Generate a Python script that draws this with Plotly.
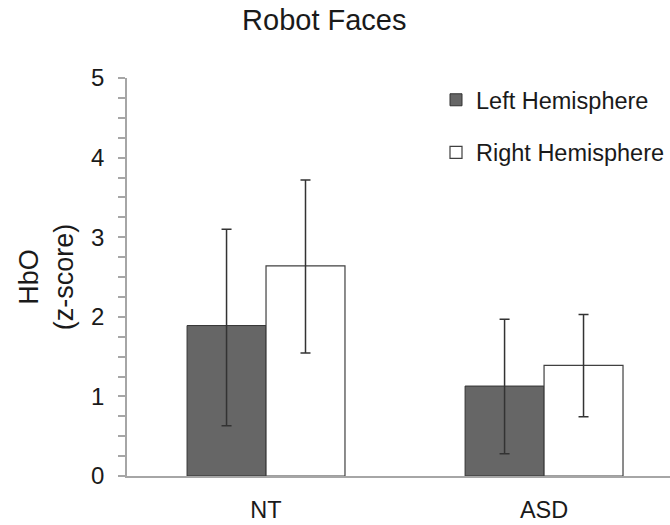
import plotly.graph_objects as go

groups = ["NT", "ASD"]
left_vals = [1.89, 1.13]
left_err_hi = [3.10, 1.97]
left_err_lo = [0.63, 0.28]
right_vals = [2.64, 1.39]
right_err_hi = [3.72, 2.03]
right_err_lo = [1.545, 0.745]
y_ticks = [0, 1, 2, 3, 4, 5]

FONT = "Liberation Sans, Arial, sans-serif"
TXT = "#1a1a1a"

def err(vals, hi, lo):
    return dict(type="data", symmetric=False,
                array=[h - v for h, v in zip(hi, vals)],
                arrayminus=[v - l for v, l in zip(vals, lo)],
                color="#333333", thickness=1.5, width=5)

fig = go.Figure()
fig.add_trace(go.Bar(
    x=groups, y=left_vals, name="Left Hemisphere",
    marker=dict(color="#666666", line=dict(color="#333333", width=1)),
    error_y=err(left_vals, left_err_hi, left_err_lo), legendgroup="a"))
fig.add_trace(go.Bar(
    x=groups, y=right_vals, name="Right Hemisphere",
    marker=dict(color="#ffffff", line=dict(color="#404040", width=1.2)),
    error_y=err(right_vals, right_err_hi, right_err_lo), legendgroup="b"))

fig.update_layout(
    width=670, height=525,
    margin=dict(l=127, r=0, t=78, b=49),
    paper_bgcolor="white", plot_bgcolor="white",
    font=dict(family=FONT, color=TXT, size=24),
    barmode="group", bargap=0.432, bargroupgap=0,
    title=dict(text="Robot Faces", x=0.484, xanchor="center",
               y=1 - 20 / 525, yref="container", yanchor="middle",
               font=dict(size=29, family=FONT, color=TXT)),
    showlegend=True,
    legend=dict(x=1.0, xanchor="right", y=1.0, yanchor="top",
                font=dict(size=23.5, family=FONT, color=TXT),
                traceorder="grouped", tracegroupgap=19,
                bgcolor="rgba(0,0,0,0)", itemwidth=30),
    xaxis=dict(range=[-0.5, 1.453], showline=True, linecolor="#a6a6a6",
               linewidth=1.5, ticks="", showgrid=False, zeroline=False,
               automargin=False,
               ticklabelstandoff=12, tickfont=dict(size=23.5)),
    yaxis=dict(range=[0, 5], tickvals=y_ticks, showline=True,
               linecolor="#a6a6a6", linewidth=1.5, ticks="outside",
               ticklen=7, tickcolor="#a6a6a6", tickwidth=1.5,
               showgrid=False, zeroline=False, ticklabelstandoff=9,
               automargin=False,
               tickfont=dict(size=24),
               minor=dict(dtick=0.25, ticks="outside", ticklen=7,
                          tickcolor="#a6a6a6", tickwidth=1.5, showgrid=False),
               title=dict(text="HbO<br>(z-score)", font=dict(size=27),
                          standoff=10)),
)

fig.write_html("out.html",
               config={"displayModeBar": False},
               post_script="document.body.style.margin='0';document.body.style.overflow='hidden';")
